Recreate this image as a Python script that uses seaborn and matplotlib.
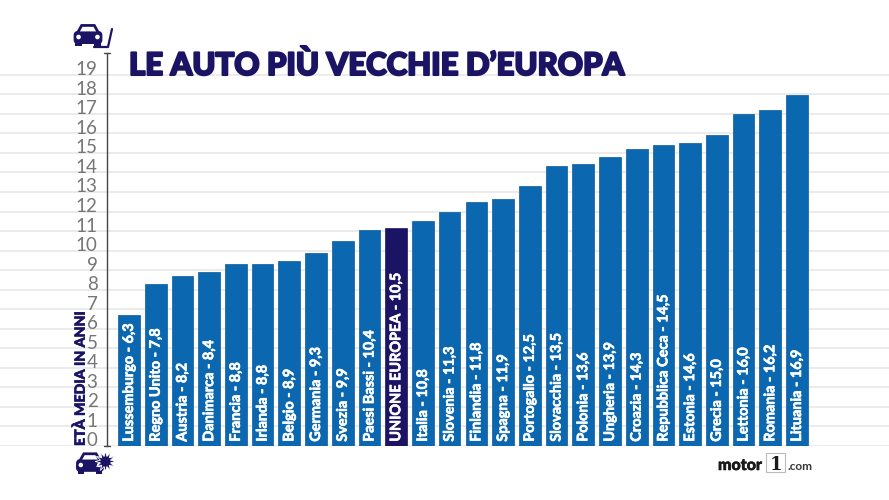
import matplotlib
matplotlib.use("Agg")
import matplotlib.pyplot as plt
import matplotlib.patheffects as pe
import seaborn as sns
from matplotlib.patches import FancyBboxPatch, Circle, Polygon, Rectangle
from matplotlib.transforms import Affine2D

countries = ["Lussemburgo", "Regno Unito", "Austria", "Danimarca", "Francia", "Irlanda", "Belgio",
             "Germania", "Svezia", "Paesi Bassi", "UNIONE EUROPEA", "Italia", "Slovenia", "Finlandia",
             "Spagna", "Portogallo", "Slovacchia", "Polonia", "Ungheria", "Croazia", "Repubblica Ceca",
             "Estonia", "Grecia", "Lettonia", "Romania", "Lituania"]
printed = ["6,3", "7,8", "8,2", "8,4", "8,8", "8,8", "8,9", "9,3", "9,9", "10,4", "10,5", "10,8", "11,3",
           "11,8", "11,9", "12,5", "13,5", "13,6", "13,9", "14,3", "14,5", "14,6", "15,0", "16,0", "16,2", "16,9"]
bar_heights = [6.7, 8.3, 8.7, 8.9, 9.3, 9.3, 9.45, 9.9, 10.5, 11.05, 11.15, 11.5, 12.0, 12.5, 12.65,
               13.3, 14.35, 14.45, 14.8, 15.2, 15.4, 15.5, 15.9, 17.0, 17.2, 17.95]
y_ticks = list(range(0, 20))
title = "LE AUTO PIÙ VECCHIE D’EUROPA"
y_title = "ETÀ MEDIA IN ANNI"

BLUE, NAVY, GRID, GREY = "#0b68b0", "#1b1464", "#e8e8e8", "#767676"
W, H = 889, 500

sns.set_theme(style="white")
plt.rcParams["font.family"] = ["Lato", "DejaVu Sans"]
fig = plt.figure(figsize=(W / 100, H / 100), dpi=100, facecolor="white")

px_unit = 19.54
ax_h = 19.6 * px_unit
ax = fig.add_axes([0, (H - 446) / H, 1, ax_h / H])
pitch, first = 26.72, 129.0

palette = {c: (NAVY if c == "UNIONE EUROPEA" else BLUE) for c in countries}
sns.barplot(x=countries, y=bar_heights, hue=countries, palette=palette, width=0.81, dodge=False,
            legend=False, ax=ax, saturation=1, zorder=3, order=countries)
ax.set_xlim(-first / pitch, (W - first) / pitch)
ax.set_ylim(0, 19.6)
ax.set_yticks(y_ticks)
ax.set_xticks([])
ax.set_xlabel(""); ax.set_ylabel("")
ax.tick_params(left=False, labelleft=False)
for s in ax.spines.values():
    s.set_visible(False)
ax.grid(axis="y", color=GRID, lw=1.2, zorder=0)
ax.set_axisbelow(True)
for b in ax.patches:
    b.set_edgecolor("#0a5a9a" if b.get_facecolor()[2] > 0.5 else NAVY)
    b.set_linewidth(0.5)

def px(x, y):
    return x / W, 1 - y / H

def thick(w, col):
    return [pe.withStroke(linewidth=w, foreground=col)]

for i, (c, v) in enumerate(zip(countries, printed)):
    ax.text(i, 0.22, f"{c} - {v}", rotation=90, ha="center", va="bottom", color="white",
            fontsize=10.4, fontweight="bold", zorder=5, path_effects=thick(0.45, "white"))

for t in y_ticks:
    fig.text(*px(97.5, 446 - t * px_unit - 5), str(t), ha="right", va="center", fontsize=13.5,
             color=GREY, fontweight="normal")

fig.add_artist(plt.Line2D([106.5 / W] * 2, [1 - 52.5 / H, 1 - 446 / H], color="#444444", lw=1))
for yy in (52.5, 446):
    fig.add_artist(plt.Line2D([103.5 / W, 109.5 / W], [1 - yy / H] * 2, color="#444444", lw=1))

fig.text(*px(129, 75), title, ha="left", va="baseline", fontsize=22.4, color=NAVY, fontweight="black",
         path_effects=thick(1.5, NAVY))
fig.text(*px(80.5, 446), y_title, rotation=90, ha="center", va="bottom", fontsize=10.2, color=NAVY,
         fontweight="black", path_effects=thick(0.4, NAVY))

pix = Affine2D().scale(1, -1).translate(0, H) + Affine2D().scale(1 / W, 1 / H) + fig.transFigure

def car(cx, cy, s=1.0):
    fig.add_artist(FancyBboxPatch((cx - 13 * s, cy - 5 * s), 26 * s, 11 * s, boxstyle="round,pad=0,rounding_size=3.5",
                                  fc=NAVY, ec=NAVY, transform=pix))
    fig.add_artist(Polygon([(cx - 10 * s, cy - 4 * s), (cx - 6 * s, cy - 11 * s), (cx + 6 * s, cy - 11 * s),
                            (cx + 10 * s, cy - 4 * s)], fc="white", ec=NAVY, lw=2, transform=pix))
    for sx in (-9, 9):
        fig.add_artist(Circle((cx + sx * s, cy), 2.2 * s, fc="white", ec="none", transform=pix))
        fig.add_artist(Rectangle((cx + sx * s - 3 * s, cy + 5 * s), 6 * s, 3.5 * s, fc=NAVY, ec="none", transform=pix))

car(88, 37, 1.05)
fig.add_artist(plt.Line2D([94 / W, 108 / W, 112 / W], [1 - 47 / H, 1 - 47 / H, 1 - 29 / H], color=NAVY, lw=1.6))
car(90, 465, 1.02)
fig.add_artist(plt.Line2D([105 / W], [1 - 461 / H], marker=(12, 1, 0), ms=15, color=NAVY, mec="white", mew=0.6))

fig.text(*px(718, 470), "motor", ha="left", va="baseline", fontsize=11.5, fontweight="black", color="#1a1a1a",
         path_effects=thick(0.4, "#1a1a1a"))
fig.add_artist(Rectangle((766, 453), 19, 19, fc="white", ec="#bbbbbb", lw=0.8, transform=pix))
fig.text(*px(775.5, 470), "1", ha="center", va="baseline", fontsize=13, fontweight="black", color="#1a1a1a",
         family=["DejaVu Serif"])
fig.text(*px(787, 470), ".com", ha="left", va="baseline", fontsize=8.5, fontweight="bold", color="#333333")

fig.savefig("out.png", dpi=100, facecolor="white")
